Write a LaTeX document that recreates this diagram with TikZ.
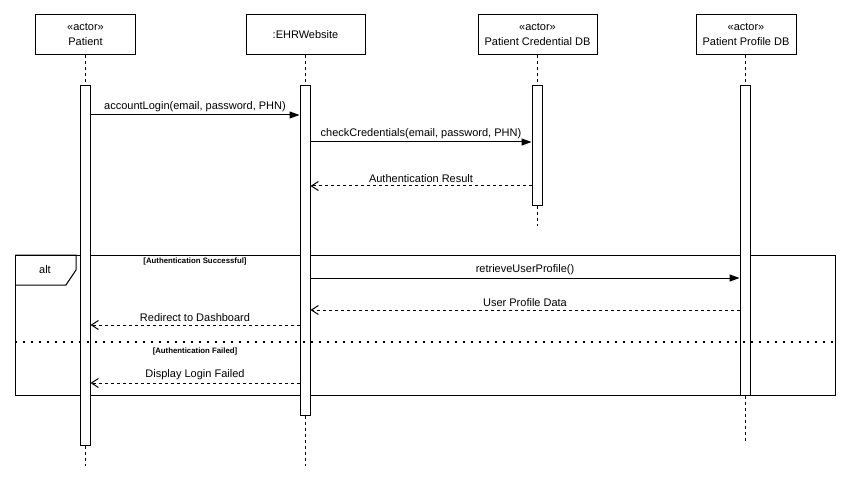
\documentclass[tikz,border=0pt]{standalone}
\usepackage{fontspec}
\setmainfont{Liberation Sans}
\usetikzlibrary{arrows.meta}
\begin{document}
\begin{tikzpicture}[x=1pt,y=-1pt,
  font=\fontsize{11}{13}\selectfont,
  actorbox/.style={draw, line width=1pt, minimum width=100pt, minimum height=40pt, align=center, inner sep=0pt, font=\fontsize{11}{15}\selectfont},
  actbar/.style={draw, fill=white, line width=1pt, minimum width=10pt, inner sep=0pt, anchor=north},
  lifeline/.style={line width=1pt, dash pattern=on 3pt off 3pt},
  syncmsg/.style={line width=1pt, -{Triangle[length=10pt,width=7pt]}},
  replymsg/.style={line width=1pt, dash pattern=on 3pt off 3pt, -{Straight Barb[length=7pt,width=9pt,line width=1pt]}},
  msglabel/.style={midway, above, inner sep=3pt},
  guard/.style={font=\fontsize{7.8}{9}\selectfont\bfseries, inner sep=0pt},
  framebox/.style={draw, line width=1pt},
  separator/.style={line width=1.6pt, dash pattern=on 1.6pt off 6.4pt}]
\useasboundingbox (0,0) rectangle (854,481);

% alt frame (under the bars)
\node[framebox, minimum width=820pt, minimum height=140pt, anchor=north west, inner sep=0pt] (frame) at (15,255) {};
\draw[line width=1pt] (frame.north west) -- ++(61,0) coordinate (t1) -- ++(0,15) -- ++(-10,15) coordinate (t2) -- (frame.west |- t2);
\node (altlbl) at (45,270) {alt};

% actors
\node[actorbox] (a1) at (85.5,35) {«actor»\\Patient};
\node[actorbox, minimum width=119pt] (a2) at (305.5,35) {:EHRWebsite};
\node[actorbox, minimum width=119pt] (a3) at (537.5,35) {«actor»\\Patient Credential DB};
\node[actorbox] (a4) at (746,35) {«actor»\\Patient Profile DB};

% activation bars
\node[actbar, minimum height=360pt] (b1) at (85,85) {};
\node[actbar, minimum height=330pt] (b2) at (305,85) {};
\node[actbar, minimum height=120pt] (b3) at (537,85) {};
\node[actbar, minimum height=310pt] (b4) at (745,85) {};

% lifeline ends
\coordinate (e1) at (85,466);
\coordinate (e2) at (305,466);
\coordinate (e3) at (537,226);
\coordinate (e4) at (745,442);

\draw[lifeline] (a1.south -| b1) -- (b1.north);
\draw[lifeline] (b1.south) -- (e1);
\draw[lifeline] (a2.south -| b2) -- (b2.north);
\draw[lifeline] (b2.south) -- (e2);
\draw[lifeline] (a3.south -| b3) -- (b3.north);
\draw[lifeline] (b3.south) -- (e3);
\draw[lifeline] (a4.south -| b4) -- (b4.north);
\draw[lifeline] (b4.south) -- (e4);

% messages
\draw[syncmsg] (b1.east |- 0,115) -- (b2.west |- 0,115) node[msglabel] {accountLogin(email, password, PHN)};
\draw[syncmsg] (b2.east |- 0,142) -- (b3.west |- 0,142) node[msglabel] {checkCredentials(email, password, PHN)};
\draw[replymsg] (b3.west |- 0,186) -- (b2.east |- 0,186) node[msglabel] {Authentication Result};
\draw[syncmsg] (b2.east |- 0,278) -- (b4.west |- 0,278) node[msglabel] {retrieveUserProfile()};
\draw[replymsg] (b4.west |- 0,310) -- (b2.east |- 0,310) node[msglabel] {User Profile Data};
\draw[replymsg] (b2.west |- 0,325) -- (b1.east |- 0,325) node[msglabel] {Redirect to Dashboard};
\draw[replymsg] (b2.west |- 0,383) -- (b1.east |- 0,383) node[msglabel] {Display Login Failed};

% separator and guards
\draw[separator] (frame.west |- 0,342) -- (frame.east |- 0,342);
\node[guard] (g1) at (195,261) {[Authentication Successful]};
\node[guard] (g2) at (195,351) {[Authentication Failed]};
\end{tikzpicture}
\end{document}
